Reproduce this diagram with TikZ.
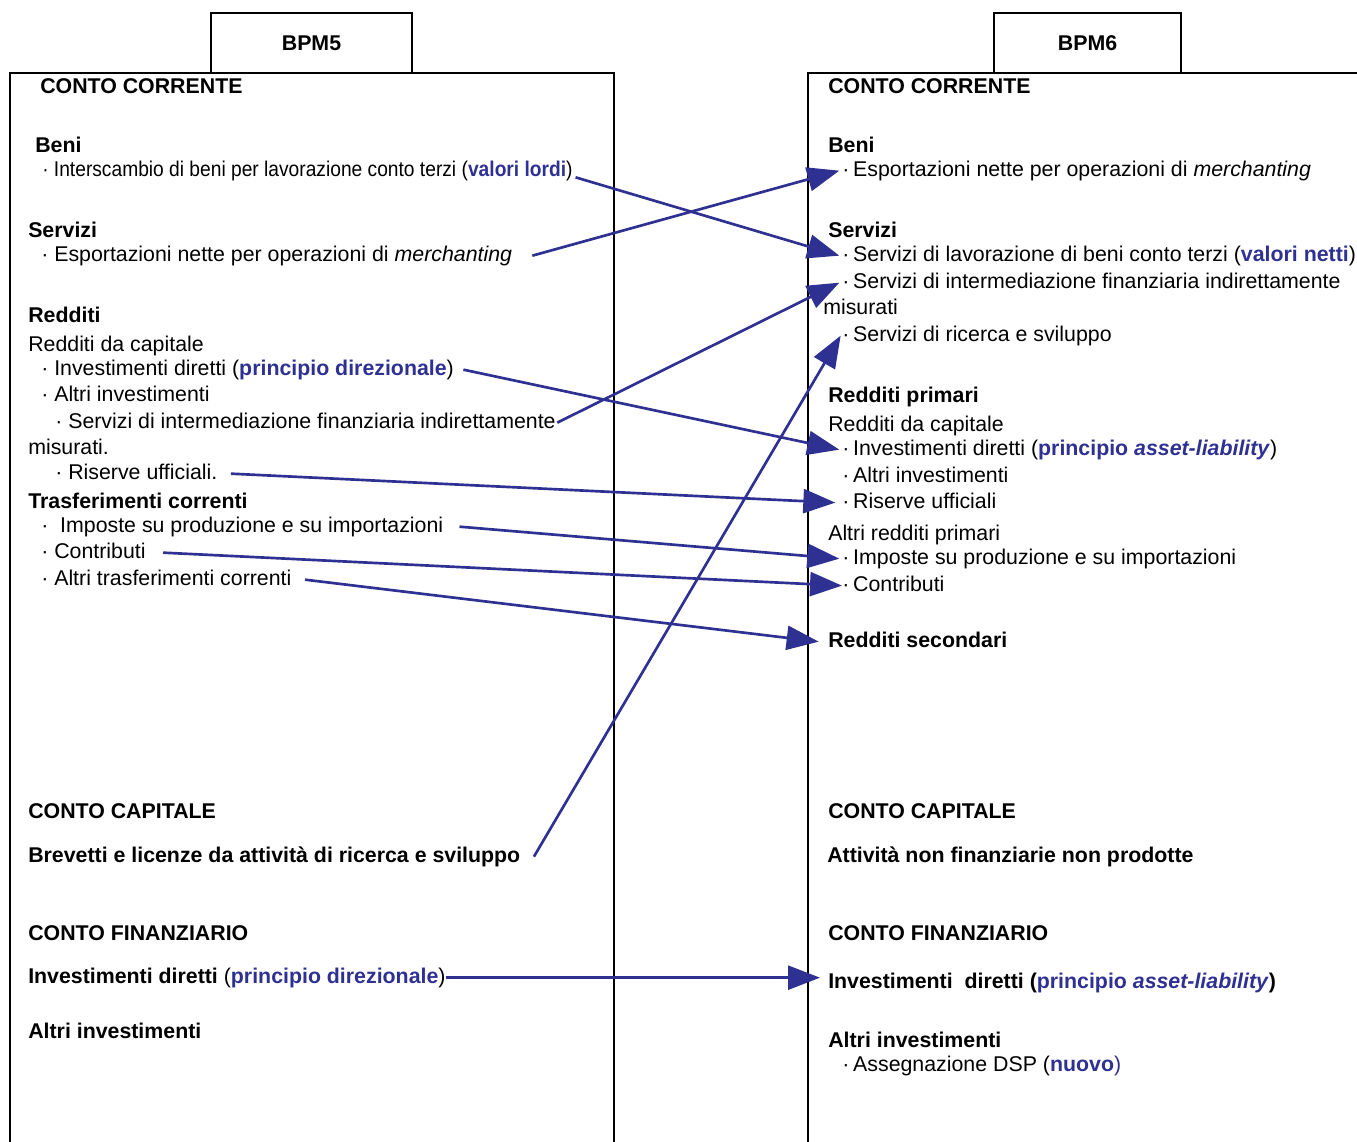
\documentclass[tikz,border=0pt]{standalone}
\usepackage{fontspec}
\setmainfont{Liberation Sans}
\usepackage{tikz}
\usetikzlibrary{arrows.meta}

\definecolor{bpblue}{RGB}{46,49,146}
\newcommand{\blu}[1]{\textcolor{bpblue}{\bfseries #1}}
\newcommand{\bul}{·\hspace{0.18em}}

\tikzset{
  txt/.style={anchor=base west,inner sep=0pt,text height=11pt,text depth=3pt,
    font=\fontsize{16}{19}\selectfont},
  head/.style={txt,font=\fontsize{16}{19}\selectfont\bfseries},
  tab/.style={draw,line width=0.8pt,inner sep=0pt,minimum height=45pt,
    font=\fontsize{16}{19}\selectfont\bfseries},
  frame/.style={line width=0.8pt},
  flow/.style={draw=bpblue,line width=2pt,-{Triangle[length=24pt,width=18pt]}}
}

\begin{document}
\begin{tikzpicture}[x=0.75pt,y=-0.75pt]
      \useasboundingbox (0,0) rectangle (1357,1142);

      % the two frames
      \draw[frame] (10,1150) -- (10,73) -- (614,73) -- (614,1150);
      \draw[frame] (808,1150) -- (808,73) -- (1362,73);
      \node[tab,minimum width=150.75pt] (bpm5) at (311.5,43) {BPM5};
      \node[tab,minimum width=140.25pt] (bpm6) at (1087.5,43) {BPM6};

      % BPM5
      \node[head] (cc5) at (40,93) {CONTO CORRENTE};
      \node[head] (beni5) at (35,152) {Beni};
      \node[txt] (lav5) at (42,176) {\scalebox{0.9}[1]{· Interscambio di beni per lavorazione conto terzi (\blu{valori lordi})}};
      \node[head] (serv5) at (28,237) {Servizi};
      \node[txt] (merch5) at (41,261) {· Esportazioni nette per operazioni di \textit{merchanting}};
      \node[head] (red5) at (28,322) {Redditi};
      \node[txt] (rc5) at (28,351) {Redditi da capitale};
      \node[txt] (id5) at (41,375) {· Investimenti diretti (\blu{principio direzionale})};
      \node[txt] (ai5) at (41,401) {· Altri investimenti};
      \node[txt] (sifim5) at (55,428) {· Servizi di intermediazione finanziaria indirettamente};
      \node[txt] (mis5) at (28,454) {misurati.};
      \node[txt] (ru5) at (55,479) {· Riserve ufficiali.};
      \node[head] (tc5) at (28,508) {Trasferimenti correnti};
      \node[txt] (imp5) at (41,532) {·\ \ Imposte su produzione e su importazioni};
      \node[txt] (con5) at (41,558) {· Contributi};
      \node[txt] (atc5) at (41,585) {· Altri trasferimenti correnti};
      \node[head] (ccap5) at (28,818) {CONTO CAPITALE};
      \node[head] (bre5) at (28,862) {Brevetti e licenze da attività di ricerca e sviluppo};
      \node[head] (cf5) at (28,940) {CONTO FINANZIARIO};
      \node[txt] (idf5) at (28,983) {\textbf{Investimenti diretti} (\blu{principio direzionale})};
      \node[head] (aif5) at (28,1038) {Altri investimenti};

      % BPM6
      \node[head] (cc6) at (828,93) {CONTO CORRENTE};
      \node[head] (beni6) at (828,152) {Beni};
      \node[txt] (merch6) at (842,176) {\bul Esportazioni nette per operazioni di \textit{merchanting}};
      \node[head] (serv6) at (828,237) {Servizi};
      \node[txt] (lav6) at (842,261) {\bul Servizi di lavorazione di beni conto terzi (\blu{valori netti})};
      \node[txt] (sifim6) at (842,288) {\bul Servizi di intermediazione finanziaria indirettamente};
      \node[txt] (mis6) at (823,314) {misurati};
      \node[txt] (rs6) at (842,341) {\bul Servizi di ricerca e sviluppo};
      \node[head] (rp6) at (828,402) {Redditi primari};
      \node[txt] (rc6) at (828,431) {Redditi da capitale};
      \node[txt] (id6) at (842,455) {\bul Investimenti diretti (\blu{principio \textit{asset-liability}})};
      \node[txt] (ai6) at (842,482) {\bul Altri investimenti};
      \node[txt] (ru6) at (842,508) {\bul Riserve ufficiali};
      \node[txt] (arp6) at (828,540) {Altri redditi primari};
      \node[txt] (imp6) at (842,564) {\bul Imposte su produzione e su importazioni};
      \node[txt] (con6) at (842,591) {\bul Contributi};
      \node[head] (rsec6) at (828,647) {Redditi secondari};
      \node[head] (ccap6) at (828,818) {CONTO CAPITALE};
      \node[head] (anf6) at (827,862) {Attività non finanziarie non prodotte};
      \node[head] (cf6) at (828,940) {CONTO FINANZIARIO};
      \node[head] (idf6) at (828,988) {Investimenti\ \ diretti (\blu{principio \textit{asset-liability}})};
      \node[head] (aif6) at (828,1047) {Altri investimenti};
      \node[txt] (dsp6) at (842,1071) {\bul Assegnazione DSP (\blu{nuovo}\textcolor{bpblue}{)}};

      % links
      \draw[flow] ([xshift=2pt,yshift=-5pt]lav5.east) -- ([xshift=-2pt]lav6.west);
      \draw[flow] ([xshift=15pt]merch5.east) -- ([xshift=-2pt]merch6.west);
      \draw[flow] ([xshift=7pt]id5.east) -- ([xshift=-2pt]id6.west);
      \draw[flow] ([xshift=1pt]sifim5.east) -- ([xshift=-2pt]sifim6.west);
      \draw[flow] ([xshift=10pt]bre5.east) -- ([xshift=-1pt]rs6.west);
      \draw[flow] ([xshift=10pt]ru5.east) -- ([xshift=-5pt]ru6.west);
      \draw[flow] ([xshift=12pt]imp5.east) -- ([xshift=-2pt]imp6.west);
      \draw[flow] ([xshift=13pt]con5.east) -- (con6.west);
      \draw[flow] ([xshift=10pt]atc5.east) -- ([xshift=-7pt]rsec6.west);
      \draw[flow,shorten >=6pt] (idf5.east) -- (idf5.east -| idf6.west);
    \end{tikzpicture}
\end{document}
